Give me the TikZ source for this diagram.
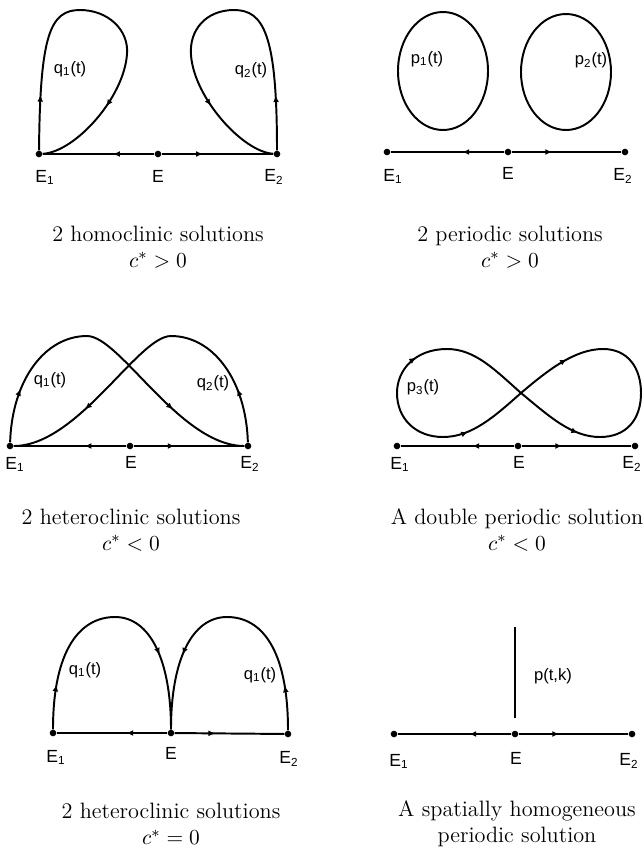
\documentclass[tikz,border=0pt]{standalone}
\usepackage{fontspec}
\newfontfamily\labelfont{Liberation Sans}
\usetikzlibrary{arrows.meta,decorations.markings}

\begin{document}
\begin{tikzpicture}[
    x=0.018cm, y=-0.018cm,
    orbit/.style={line width=1pt},
    axis/.style={line width=1pt},
    pt/.style={circle, fill, inner sep=0pt, minimum size=3.4pt},
    lab/.style={font=\labelfont\fontsize{8.5}{10}\selectfont, inner sep=1pt},
    elab/.style={font=\labelfont\fontsize{9}{10}\selectfont, inner sep=1pt},
    caption/.style={font=\fontsize{11.4}{13.5}\selectfont, align=center},
    flowat/.style={postaction={decorate, decoration={markings,
        mark=at position #1 with {\arrow{Latex[length=3.5pt,width=3pt]}}}}},
]
    \useasboundingbox (0,0) rectangle (642,849);

    % 2 homoclinic solutions
    \node[pt] (aE1) at (39,154) {};
    \node[pt] (aE) at (158,154) {};
    \node[pt] (aE2) at (277,154) {};
    \draw[axis, flowat=0.37] (aE) -- (aE1);
    \draw[axis, flowat=0.37] (aE) -- (aE2);
    \draw[orbit, flowat=0.15, flowat=0.78] (aE1) .. controls (40,35) and (50,10) .. (80,10)
        .. controls (108,10) and (129,30) .. (127,54) .. controls (124,98) and (75,152) .. (aE1);
    \draw[orbit, flowat=0.15, flowat=0.78] (aE2) .. controls (277,35) and (264,10) .. (234,10)
        .. controls (206,10) and (189,30) .. (191,55) .. controls (194,98) and (243,152) .. (aE2);
    \node[lab] (q1a) at (70,69) {q\textsubscript{1}(t)};
    \node[lab] (q2a) at (251,70) {q\textsubscript{2}(t)};
    \node[elab] (aE1l) at (45,177) {E\textsubscript{1}};
    \node[elab] (aEl) at (158,176) {E};
    \node[elab] (aE2l) at (274,177) {E\textsubscript{2}};
    \node[caption] (capa) at (158,247) {2 homoclinic solutions\\ $c^* > 0$};

    % 2 periodic solutions
    \node[pt] (bE1) at (387,152) {};
    \node[pt] (bE) at (508,152) {};
    \node[pt] (bE2) at (625,152) {};
    \draw[axis, flowat=0.37] (bE) -- (bE1);
    \draw[axis, flowat=0.37] (bE) -- (bE2);
    \draw[orbit] (443,71) ellipse [x radius=45, y radius=59];
    \draw[orbit] (566,72) ellipse [x radius=45, y radius=58];
    \node[lab] (p1b) at (427,59) {p\textsubscript{1}(t)};
    \node[lab] (p2b) at (591,60) {p\textsubscript{2}(t)};
    \node[elab] (bE1l) at (393,176) {E\textsubscript{1}};
    \node[elab] (bEl) at (508,173) {E};
    \node[elab] (bE2l) at (623,176) {E\textsubscript{2}};
    \node[caption] (capb) at (510,247) {2 periodic solutions\\ $c^* > 0$};

    % 2 heteroclinic solutions, c* < 0
    \node[pt] (cE1) at (10,446) {};
    \node[pt] (cE) at (130,446) {};
    \node[pt] (cE2) at (248,446) {};
    \draw[axis, flowat=0.37] (cE) -- (cE1);
    \draw[axis, flowat=0.37] (cE) -- (cE2);
    \draw[orbit, flowat=0.16, flowat=0.76] (cE1) .. controls (12,380) and (45,336) .. (87,336)
        .. controls (120,336) and (180,446) .. (cE2);
    \draw[orbit, flowat=0.16, flowat=0.76] (cE2) .. controls (246,380) and (213,336) .. (171,336)
        .. controls (138,336) and (78,446) .. (cE1);
    \node[lab] (q1c) at (50,380) {q\textsubscript{1}(t)};
    \node[lab] (q2c) at (213,383) {q\textsubscript{2}(t)};
    \node[elab] (cE1l) at (15,464) {E\textsubscript{1}};
    \node[elab] (cEl) at (131,462) {E};
    \node[elab] (cE2l) at (250,464) {E\textsubscript{2}};
    \node[caption] (capc) at (131,530) {2 heteroclinic solutions\\ $c^* < 0$};

    % A double periodic solution
    \node[pt] (dE1) at (397,446) {};
    \node[pt] (dE) at (518,446) {};
    \node[pt] (dE2) at (635,446) {};
    \draw[axis, flowat=0.37] (dE) -- (dE1);
    \draw[axis, flowat=0.37] (dE) -- (dE2);
    \coordinate (p3l) at (397,393);
    \coordinate (p3x) at (521,393);
    \coordinate (p3r) at (641,393);
    \draw[orbit, flowat=0.13, flowat=0.72] (p3l) .. controls (397,370) and (415,349) .. (447,349)
        .. controls (475,349) and (495,370) .. (p3x) .. controls (550,417) and (572,437) .. (600,437)
        .. controls (626,437) and (641,420) .. (p3r);
    \draw[orbit, flowat=0.3, flowat=0.68] (p3l) .. controls (397,418) and (415,437) .. (443,437)
        .. controls (472,437) and (495,416) .. (p3x) .. controls (548,370) and (575,349) .. (603,349)
        .. controls (628,349) and (641,368) .. (p3r);
    \node[lab] (p3d) at (423,387) {p\textsubscript{3}(t)};
    \node[elab] (dE1l) at (400,464) {E\textsubscript{1}};
    \node[elab] (dEl) at (519,462) {E};
    \node[elab] (dE2l) at (632,464) {E\textsubscript{2}};
    \node[caption] (capd) at (517,530) {A double periodic solution\\ $c^* < 0$};

    % 2 heteroclinic solutions, c* = 0
    \node[pt] (eE1) at (53,733) {};
    \node[pt] (eE) at (171,733) {};
    \node[pt] (eE2) at (288,734) {};
    \draw[axis, flowat=0.37] (eE) -- (eE1);
    \draw[axis, flowat=0.37] (eE) -- (eE2);
    \draw[orbit, flowat=0.16, flowat=0.73] (eE1) .. controls (53,650) and (80,617) .. (115,617)
        .. controls (150,617) and (171,660) .. (eE);
    \draw[orbit, flowat=0.16, flowat=0.73] (eE2) .. controls (288,650) and (262,617) .. (227,617)
        .. controls (192,617) and (171,660) .. (eE);
    \node[lab] (q1e) at (85,670) {q\textsubscript{1}(t)};
    \node[lab] (q1f) at (260,675) {q\textsubscript{1}(t)};
    \node[elab] (eE1l) at (56,757) {E\textsubscript{1}};
    \node[elab] (eEl) at (171,753) {E};
    \node[elab] (eE2l) at (289,759) {E\textsubscript{2}};
    \node[caption] (cape) at (171,824) {2 heteroclinic solutions\\ $c^* = 0$};

    % A spatially homogeneous periodic solution
    \node[pt] (fE1) at (394,734) {};
    \node[pt] (fE) at (515,734) {};
    \node[pt] (fE2) at (632,734) {};
    \draw[axis, flowat=0.37] (fE) -- (fE1);
    \draw[axis, flowat=0.37] (fE) -- (fE2);
    \coordinate (ftop) at (515,627);
    \coordinate (fbot) at (515,718);
    \draw[orbit] (ftop) -- (fbot);
    \node[lab] (ptk) at (553,676) {p(t,k)};
    \node[elab] (fE1l) at (399,761) {E\textsubscript{1}};
    \node[elab] (fEl) at (516,758) {E};
    \node[elab] (fE2l) at (629,761) {E\textsubscript{2}};
    \node[caption] (capf) at (517,824) {A spatially homogeneous\\ periodic solution};

\end{tikzpicture}
\end{document}
